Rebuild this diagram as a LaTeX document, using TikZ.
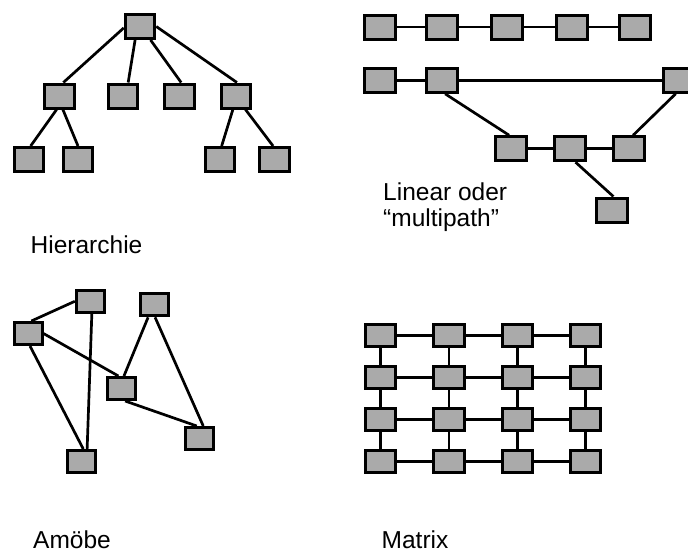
\documentclass[tikz,border=0pt]{standalone}
\usepackage{fontspec}
\setmainfont{Liberation Sans}
\definecolor{boxgray}{RGB}{170,170,170}
\pgfdeclarelayer{bg}
\pgfsetlayers{bg,main}
\begin{document}
\begin{tikzpicture}[x=1pt,y=-1pt,
  box/.style={draw=black, fill=boxgray, line width=3pt, inner sep=0pt},
  hbox/.style={box, minimum width=29.5pt, minimum height=24pt},
  pbox/.style={box, minimum width=31pt, minimum height=24pt},
  abox/.style={box, minimum width=28pt, minimum height=22pt},
  gbox/.style={box, minimum width=30.3pt, minimum height=22pt},
  link/.style={draw=black, line width=2.7pt},
  caption/.style={anchor=base west, inner sep=0pt, align=left,
                  font=\fontsize{24.5}{26.7}\selectfont}]
\useasboundingbox (0,0) rectangle (688,552);
\clip (0,0) rectangle (688,552);

% ---------- Hierarchie ----------
\node[hbox] (root) at (140,26.5) {};
\node[hbox] (hA) at (59.5,96) {};
\node[hbox] (hB) at (123,96) {};
\node[hbox] (hC) at (179.5,96) {};
\node[hbox] (hD) at (236,96) {};
\node[hbox] (hL1) at (29,159.5) {};
\node[hbox] (hL2) at (78,159.5) {};
\node[hbox] (hL3) at (220,159.5) {};
\node[hbox] (hL4) at (274.5,159.5) {};
\begin{pgfonlayer}{bg}
  \draw[link] (root.185) -- (hA.74);
  \draw[link] (root.250) -- (hB.69);
  \draw[link] (root.308) -- (hC.83);
  \draw[link] (root.east) -- (hD.86);
  \draw[link] (hA.258) -- (hL1.83);
  \draw[link] (hA.284) -- (hL2.north);
  \draw[link] (hD.257) -- (hL3.83);
  \draw[link] (hD.305) -- (hL4.96);
\end{pgfonlayer}
\node[caption] (capH) at (30.5,253.3) {Hierarchie};

% ---------- Linear / multipath ----------
\node[pbox] (t1) at (380.3,27) {};
\node[pbox] (t2) at (441.5,27) {};
\node[pbox] (t3) at (506.8,27) {};
\node[pbox] (t4) at (571.8,27) {};
\node[pbox] (t5) at (634.7,27) {};
\node[pbox] (m1) at (380.3,80.3) {};
\node[pbox] (m2) at (441.5,80.3) {};
\node[pbox] (m3) at (679,80.3) {};
\node[pbox] (n1) at (510.7,148.7) {};
\node[pbox] (n2) at (569.8,148.7) {};
\node[pbox] (n3) at (629.3,148.7) {};
\node[pbox] (q1) at (611.5,210) {};
\begin{pgfonlayer}{bg}
  \draw[link] (t1) -- (t2);
  \draw[link] (t2) -- (t3);
  \draw[link] (t3) -- (t4);
  \draw[link] (t4) -- (t5);
  \draw[link] (m1) -- (m2);
  \draw[link] (m2) -- (m3);
  \draw[link] (m2.285) -- (n1.97);
  \draw[link] (m3.256) -- (n3.74);
  \draw[link] (n1) -- (n2);
  \draw[link] (n2) -- (n3);
  \draw[link] (n2.293) -- (q1.82);
\end{pgfonlayer}
\node[caption] (capL) at (383,226.7) {Linear oder\\“multipath”};

% ---------- Amöbe ----------
\node[abox] (a1) at (90.3,301.3) {};
\node[abox] (a2) at (154.2,304.8) {};
\node[abox] (a3) at (28,333.5) {};
\node[abox] (a4) at (121.3,388.5) {};
\node[abox] (a5) at (199.2,438.5) {};
\node[abox] (a6) at (81.3,461.5) {};
\begin{pgfonlayer}{bg}
  \draw[link] (a3.75) -- (a1.west);
  \draw[link] (a1.277) -- (a6.65);
  \draw[link] (a3.279) -- (a6.81);
  \draw[link] (a3.east) -- (a4.103);
  \draw[link] (a2.244) -- (a4.78);
  \draw[link] (a2.274) -- (a5.72);
  \draw[link] (a4.287) -- (a5.101);
\end{pgfonlayer}
\node[caption] (capA) at (33,548.3) {Amöbe};

% ---------- Matrix ----------
\foreach \c/\x in {1/380.7,2/449,3/517.3,4/585.7}
  \foreach \r/\y in {1/335.2,2/377.7,3/419.5,4/461.8}
    \node[gbox] (g\c\r) at (\x,\y) {};
\begin{pgfonlayer}{bg}
  \foreach \c in {1,2,3,4}
    \foreach \r/\s in {1/2,2/3,3/4}
      \draw[link] (g\c\r) -- (g\c\s);
  \foreach \r in {1,2,3,4}
    \foreach \c/\d in {1/2,2/3,3/4}
      \draw[link] (g\c\r) -- (g\d\r);
\end{pgfonlayer}
\node[caption] (capM) at (381.5,548.3) {Matrix};
\end{tikzpicture}
\end{document}
